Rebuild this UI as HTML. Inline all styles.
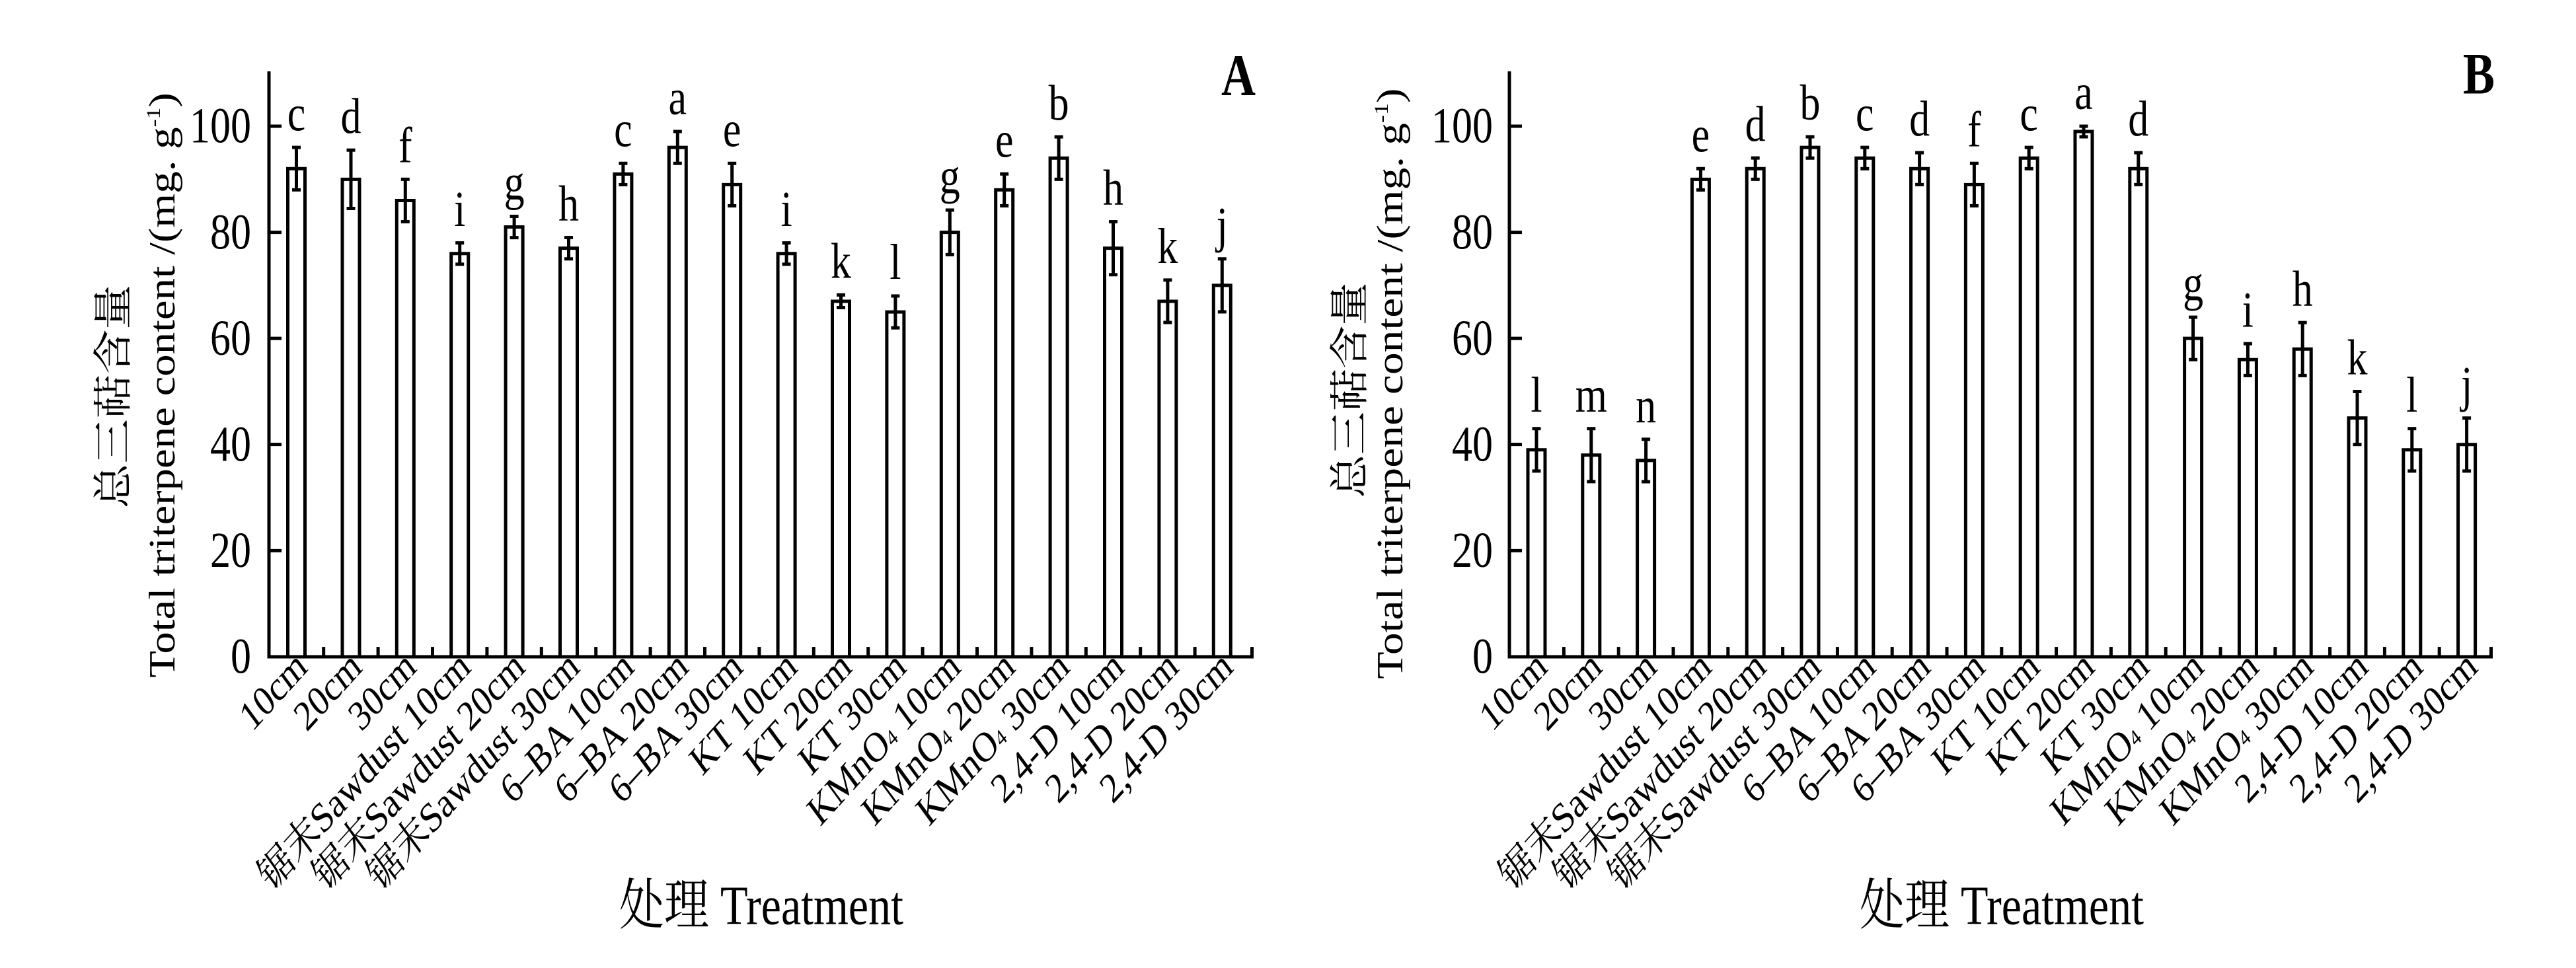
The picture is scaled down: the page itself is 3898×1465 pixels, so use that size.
<!DOCTYPE html>
<html><head><meta charset="utf-8"><style>
html,body{margin:0;padding:0;background:#fff;}
svg{display:block;}
text{font-family:"Liberation Serif","Noto Serif CJK SC",serif;fill:#000;}
.cjk{font-family:"Liberation Serif","Noto Serif CJK SC","Noto Sans CJK SC",serif;}
rect,line{vector-effect:non-scaling-stroke;}
</style></head><body>
<svg width="3898" height="1465" viewBox="0 0 3898 1465" xmlns="http://www.w3.org/2000/svg">
<rect x="0" y="0" width="3898" height="1465" fill="#fff"/>
<g transform="scale(1,1.23)">
<!-- ================= PANEL A ================= -->
<g stroke="#000" stroke-width="5" fill="none">
<line x1="407" y1="87.8" x2="407" y2="810"/>
<line x1="404.5" y1="808.1" x2="1897" y2="808.1"/>
<line x1="407" y1="677.5" x2="426" y2="677.5"/>
<line x1="407" y1="546.9" x2="426" y2="546.9"/>
<line x1="407" y1="416.4" x2="426" y2="416.4"/>
<line x1="407" y1="285.9" x2="426" y2="285.9"/>
<line x1="407" y1="155.3" x2="426" y2="155.3"/>
<line x1="489.7" y1="808" x2="489.7" y2="796"/><line x1="572.1" y1="808" x2="572.1" y2="796"/><line x1="654.5" y1="808" x2="654.5" y2="796"/><line x1="736.9" y1="808" x2="736.9" y2="796"/><line x1="819.3" y1="808" x2="819.3" y2="796"/><line x1="901.7" y1="808" x2="901.7" y2="796"/><line x1="984.1" y1="808" x2="984.1" y2="796"/><line x1="1066.5" y1="808" x2="1066.5" y2="796"/><line x1="1148.9" y1="808" x2="1148.9" y2="796"/><line x1="1231.3" y1="808" x2="1231.3" y2="796"/><line x1="1313.7" y1="808" x2="1313.7" y2="796"/><line x1="1396.1" y1="808" x2="1396.1" y2="796"/><line x1="1478.5" y1="808" x2="1478.5" y2="796"/><line x1="1560.9" y1="808" x2="1560.9" y2="796"/><line x1="1643.3" y1="808" x2="1643.3" y2="796"/><line x1="1725.7" y1="808" x2="1725.7" y2="796"/><line x1="1808.1" y1="808" x2="1808.1" y2="796"/><line x1="1894.5" y1="808" x2="1894.5" y2="796"/>
<rect x="435.5" y="207.5" width="26" height="600.6"/>
<rect x="518" y="220.6" width="26" height="587.5"/>
<rect x="600.3" y="246.7" width="26" height="561.4"/>
<rect x="682.7" y="312" width="26" height="496.1"/>
<rect x="765.1" y="279.3" width="26" height="528.8"/>
<rect x="847.5" y="305.4" width="26" height="502.7"/>
<rect x="929.9" y="214.1" width="26" height="594"/>
<rect x="1012.3" y="181.4" width="26" height="626.7"/>
<rect x="1094.7" y="227.1" width="26" height="581"/>
<rect x="1177.1" y="312" width="26" height="496.1"/>
<rect x="1259.5" y="370.7" width="26" height="437.4"/>
<rect x="1341.9" y="383.8" width="26" height="424.3"/>
<rect x="1424.3" y="285.9" width="26" height="522.2"/>
<rect x="1506.7" y="233.6" width="26" height="574.5"/>
<rect x="1589.1" y="194.5" width="26" height="613.6"/>
<rect x="1671.5" y="305.4" width="26" height="502.7"/>
<rect x="1753.9" y="370.7" width="26" height="437.4"/>
<rect x="1836.3" y="351.1" width="26" height="457"/>
<line x1="448.5" y1="181.4" x2="448.5" y2="233.6"/><line x1="442" y1="181.4" x2="455" y2="181.4"/><line x1="442" y1="233.6" x2="455" y2="233.6"/>
<line x1="531" y1="184.7" x2="531" y2="256.5"/><line x1="524.5" y1="184.7" x2="537.5" y2="184.7"/><line x1="524.5" y1="256.5" x2="537.5" y2="256.5"/>
<line x1="613.3" y1="220.6" x2="613.3" y2="272.8"/><line x1="606.8" y1="220.6" x2="619.8" y2="220.6"/><line x1="606.8" y1="272.8" x2="619.8" y2="272.8"/>
<line x1="695.7" y1="298.9" x2="695.7" y2="325.1"/><line x1="689.2" y1="298.9" x2="702.2" y2="298.9"/><line x1="689.2" y1="325.1" x2="702.2" y2="325.1"/>
<line x1="778.1" y1="266.2" x2="778.1" y2="292.4"/><line x1="771.6" y1="266.2" x2="784.6" y2="266.2"/><line x1="771.6" y1="292.4" x2="784.6" y2="292.4"/>
<line x1="860.5" y1="292.3" x2="860.5" y2="318.5"/><line x1="854" y1="292.3" x2="867" y2="292.3"/><line x1="854" y1="318.5" x2="867" y2="318.5"/>
<line x1="942.9" y1="201" x2="942.9" y2="227.2"/><line x1="936.4" y1="201" x2="949.4" y2="201"/><line x1="936.4" y1="227.2" x2="949.4" y2="227.2"/>
<line x1="1025.3" y1="161.8" x2="1025.3" y2="201"/><line x1="1018.8" y1="161.8" x2="1031.8" y2="161.8"/><line x1="1018.8" y1="201" x2="1031.8" y2="201"/>
<line x1="1107.7" y1="201" x2="1107.7" y2="253.2"/><line x1="1101.2" y1="201" x2="1114.2" y2="201"/><line x1="1101.2" y1="253.2" x2="1114.2" y2="253.2"/>
<line x1="1190.1" y1="298.9" x2="1190.1" y2="325.1"/><line x1="1183.6" y1="298.9" x2="1196.6" y2="298.9"/><line x1="1183.6" y1="325.1" x2="1196.6" y2="325.1"/>
<line x1="1272.5" y1="362.9" x2="1272.5" y2="378.5"/><line x1="1266" y1="362.9" x2="1279" y2="362.9"/><line x1="1266" y1="378.5" x2="1279" y2="378.5"/>
<line x1="1354.9" y1="364.2" x2="1354.9" y2="403.4"/><line x1="1348.4" y1="364.2" x2="1361.4" y2="364.2"/><line x1="1348.4" y1="403.4" x2="1361.4" y2="403.4"/>
<line x1="1437.3" y1="258.5" x2="1437.3" y2="313.3"/><line x1="1430.8" y1="258.5" x2="1443.8" y2="258.5"/><line x1="1430.8" y1="313.3" x2="1443.8" y2="313.3"/>
<line x1="1519.7" y1="214" x2="1519.7" y2="253.2"/><line x1="1513.2" y1="214" x2="1526.2" y2="214"/><line x1="1513.2" y1="253.2" x2="1526.2" y2="253.2"/>
<line x1="1602.1" y1="168.4" x2="1602.1" y2="220.6"/><line x1="1595.6" y1="168.4" x2="1608.6" y2="168.4"/><line x1="1595.6" y1="220.6" x2="1608.6" y2="220.6"/>
<line x1="1684.5" y1="272.8" x2="1684.5" y2="338"/><line x1="1678" y1="272.8" x2="1691" y2="272.8"/><line x1="1678" y1="338" x2="1691" y2="338"/>
<line x1="1766.9" y1="344.6" x2="1766.9" y2="396.8"/><line x1="1760.4" y1="344.6" x2="1773.4" y2="344.6"/><line x1="1760.4" y1="396.8" x2="1773.4" y2="396.8"/>
<line x1="1849.3" y1="318.5" x2="1849.3" y2="383.7"/><line x1="1842.8" y1="318.5" x2="1855.8" y2="318.5"/><line x1="1842.8" y1="383.7" x2="1855.8" y2="383.7"/>
</g>
<g font-size="62" text-anchor="end">
<text x="380" y="828">0</text><text x="380" y="697.5">20</text><text x="380" y="567">40</text><text x="380" y="436.4">60</text><text x="380" y="306">80</text><text x="380" y="175.3">100</text>
</g>
<g font-size="62" text-anchor="middle">
<text x="448.5" y="160.4">c</text><text x="531" y="163.7">d</text><text x="613.3" y="199.6">f</text><text x="695.7" y="277.9">i</text><text x="778.1" y="245.2">g</text><text x="860.5" y="271.3">h</text><text x="942.9" y="180">c</text><text x="1025.3" y="140.8">a</text><text x="1107.7" y="180">e</text><text x="1190.1" y="277.9">i</text><text x="1272.5" y="341.9">k</text><text x="1354.9" y="343.2">l</text><text x="1437.3" y="237.5">g</text><text x="1519.7" y="193">e</text><text x="1602.1" y="147.4">b</text><text x="1684.5" y="251.8">h</text><text x="1766.9" y="323.6">k</text><text x="1849.3" y="297.5">j</text>
</g>
<text x="1900" y="117" font-size="72" font-weight="bold" text-anchor="end">A</text>
<g font-size="52" text-anchor="end">
<text x="467.5" y="824" transform="rotate(-42 467.5 824)">10cm</text>
<text x="550" y="824" transform="rotate(-42 550 824)">20cm</text>
<text x="632.3" y="824" transform="rotate(-42 632.3 824)">30cm</text>
<text x="714.7" y="824" transform="rotate(-42 714.7 824)" class="cjk">锯末Sawdust 10cm</text>
<text x="797.1" y="824" transform="rotate(-42 797.1 824)" class="cjk">锯末Sawdust 20cm</text>
<text x="879.5" y="824" transform="rotate(-42 879.5 824)" class="cjk">锯末Sawdust 30cm</text>
<text x="961.9" y="824" transform="rotate(-42 961.9 824)">6–BA 10cm</text>
<text x="1044.3" y="824" transform="rotate(-42 1044.3 824)">6–BA 20cm</text>
<text x="1126.7" y="824" transform="rotate(-42 1126.7 824)">6–BA 30cm</text>
<text x="1209.1" y="824" transform="rotate(-42 1209.1 824)">KT 10cm</text>
<text x="1291.5" y="824" transform="rotate(-42 1291.5 824)">KT 20cm</text>
<text x="1373.9" y="824" transform="rotate(-42 1373.9 824)">KT 30cm</text>
<text x="1456.3" y="824" transform="rotate(-42 1456.3 824)">KMnO<tspan font-size="28">4</tspan> 10cm</text>
<text x="1538.7" y="824" transform="rotate(-42 1538.7 824)">KMnO<tspan font-size="28">4</tspan> 20cm</text>
<text x="1621.1" y="824" transform="rotate(-42 1621.1 824)">KMnO<tspan font-size="28">4</tspan> 30cm</text>
<text x="1703.5" y="824" transform="rotate(-42 1703.5 824)">2,4-D 10cm</text>
<text x="1785.9" y="824" transform="rotate(-42 1785.9 824)">2,4-D 20cm</text>
<text x="1868.3" y="824" transform="rotate(-42 1868.3 824)">2,4-D 30cm</text>
</g>
<text x="264" y="474" font-size="56" text-anchor="middle" transform="rotate(-90 264 474)" textLength="720" lengthAdjust="spacingAndGlyphs">Total triterpene content /(mg. g<tspan font-size="30" dy="-22">-1</tspan><tspan dy="22">)</tspan></text>
<text x="192" y="488" font-size="60" text-anchor="middle" class="cjk" transform="rotate(-90 192 488)" textLength="275" lengthAdjust="spacingAndGlyphs">总三萜含量</text>
<text x="1152" y="1137" font-size="68" text-anchor="middle" class="cjk" textLength="430" lengthAdjust="spacingAndGlyphs">处理 Treatment</text>

<!-- ================= PANEL B ================= -->
<g stroke="#000" stroke-width="5" fill="none">
<line x1="2284" y1="87.8" x2="2284" y2="810"/>
<line x1="2281.5" y1="808.1" x2="3772" y2="808.1"/>
<line x1="2284" y1="677.5" x2="2303" y2="677.5"/>
<line x1="2284" y1="546.9" x2="2303" y2="546.9"/>
<line x1="2284" y1="416.4" x2="2303" y2="416.4"/>
<line x1="2284" y1="285.9" x2="2303" y2="285.9"/>
<line x1="2284" y1="155.3" x2="2303" y2="155.3"/>
<line x1="2366.4" y1="808" x2="2366.4" y2="796"/><line x1="2449.2" y1="808" x2="2449.2" y2="796"/><line x1="2532" y1="808" x2="2532" y2="796"/><line x1="2614.8" y1="808" x2="2614.8" y2="796"/><line x1="2697.6" y1="808" x2="2697.6" y2="796"/><line x1="2780.4" y1="808" x2="2780.4" y2="796"/><line x1="2863.2" y1="808" x2="2863.2" y2="796"/><line x1="2946" y1="808" x2="2946" y2="796"/><line x1="3028.8" y1="808" x2="3028.8" y2="796"/><line x1="3111.6" y1="808" x2="3111.6" y2="796"/><line x1="3194.4" y1="808" x2="3194.4" y2="796"/><line x1="3277.2" y1="808" x2="3277.2" y2="796"/><line x1="3360" y1="808" x2="3360" y2="796"/><line x1="3442.8" y1="808" x2="3442.8" y2="796"/><line x1="3525.6" y1="808" x2="3525.6" y2="796"/><line x1="3608.4" y1="808" x2="3608.4" y2="796"/><line x1="3691.2" y1="808" x2="3691.2" y2="796"/><line x1="3769.5" y1="808" x2="3769.5" y2="796"/>
<rect x="2312" y="553.5" width="26" height="254.6"/>
<rect x="2394.8" y="560" width="26" height="248.1"/>
<rect x="2477.6" y="566.6" width="26" height="241.5"/>
<rect x="2560.4" y="220.6" width="26" height="587.5"/>
<rect x="2643.2" y="207.5" width="26" height="600.6"/>
<rect x="2726" y="181.4" width="26" height="626.7"/>
<rect x="2808.8" y="194.5" width="26" height="613.6"/>
<rect x="2891.6" y="207.5" width="26" height="600.6"/>
<rect x="2974.4" y="227.1" width="26" height="581"/>
<rect x="3057.2" y="194.5" width="26" height="613.6"/>
<rect x="3140" y="161.8" width="26" height="646.3"/>
<rect x="3222.8" y="207.5" width="26" height="600.6"/>
<rect x="3305.6" y="416.4" width="26" height="391.7"/>
<rect x="3388.4" y="442.5" width="26" height="365.6"/>
<rect x="3471.2" y="429.5" width="26" height="378.6"/>
<rect x="3554" y="514.3" width="26" height="293.8"/>
<rect x="3636.8" y="553.5" width="26" height="254.6"/>
<rect x="3719.6" y="547" width="26" height="261.1"/>
<line x1="2325" y1="527.4" x2="2325" y2="579.6"/><line x1="2318.5" y1="527.4" x2="2331.5" y2="527.4"/><line x1="2318.5" y1="579.6" x2="2331.5" y2="579.6"/>
<line x1="2407.8" y1="527.4" x2="2407.8" y2="592.6"/><line x1="2401.3" y1="527.4" x2="2414.3" y2="527.4"/><line x1="2401.3" y1="592.6" x2="2414.3" y2="592.6"/>
<line x1="2490.6" y1="540.5" x2="2490.6" y2="592.7"/><line x1="2484.1" y1="540.5" x2="2497.1" y2="540.5"/><line x1="2484.1" y1="592.7" x2="2497.1" y2="592.7"/>
<line x1="2573.4" y1="207.5" x2="2573.4" y2="233.7"/><line x1="2566.9" y1="207.5" x2="2579.9" y2="207.5"/><line x1="2566.9" y1="233.7" x2="2579.9" y2="233.7"/>
<line x1="2656.2" y1="194.4" x2="2656.2" y2="220.6"/><line x1="2649.7" y1="194.4" x2="2662.7" y2="194.4"/><line x1="2649.7" y1="220.6" x2="2662.7" y2="220.6"/>
<line x1="2739" y1="168.3" x2="2739" y2="194.5"/><line x1="2732.5" y1="168.3" x2="2745.5" y2="168.3"/><line x1="2732.5" y1="194.5" x2="2745.5" y2="194.5"/>
<line x1="2821.8" y1="181.4" x2="2821.8" y2="207.6"/><line x1="2815.3" y1="181.4" x2="2828.3" y2="181.4"/><line x1="2815.3" y1="207.6" x2="2828.3" y2="207.6"/>
<line x1="2904.6" y1="187.9" x2="2904.6" y2="227.1"/><line x1="2898.1" y1="187.9" x2="2911.1" y2="187.9"/><line x1="2898.1" y1="227.1" x2="2911.1" y2="227.1"/>
<line x1="2987.4" y1="201" x2="2987.4" y2="253.2"/><line x1="2980.9" y1="201" x2="2993.9" y2="201"/><line x1="2980.9" y1="253.2" x2="2993.9" y2="253.2"/>
<line x1="3070.2" y1="181.4" x2="3070.2" y2="207.6"/><line x1="3063.7" y1="181.4" x2="3076.7" y2="181.4"/><line x1="3063.7" y1="207.6" x2="3076.7" y2="207.6"/>
<line x1="3153" y1="155.3" x2="3153" y2="168.3"/><line x1="3146.5" y1="155.3" x2="3159.5" y2="155.3"/><line x1="3146.5" y1="168.3" x2="3159.5" y2="168.3"/>
<line x1="3235.8" y1="187.9" x2="3235.8" y2="227.1"/><line x1="3229.3" y1="187.9" x2="3242.3" y2="187.9"/><line x1="3229.3" y1="227.1" x2="3242.3" y2="227.1"/>
<line x1="3318.6" y1="390.3" x2="3318.6" y2="442.5"/><line x1="3312.1" y1="390.3" x2="3325.1" y2="390.3"/><line x1="3312.1" y1="442.5" x2="3325.1" y2="442.5"/>
<line x1="3401.4" y1="422.9" x2="3401.4" y2="462.1"/><line x1="3394.9" y1="422.9" x2="3407.9" y2="422.9"/><line x1="3394.9" y1="462.1" x2="3407.9" y2="462.1"/>
<line x1="3484.2" y1="396.9" x2="3484.2" y2="462.1"/><line x1="3477.7" y1="396.9" x2="3490.7" y2="396.9"/><line x1="3477.7" y1="462.1" x2="3490.7" y2="462.1"/>
<line x1="3567" y1="481.7" x2="3567" y2="546.9"/><line x1="3560.5" y1="481.7" x2="3573.5" y2="481.7"/><line x1="3560.5" y1="546.9" x2="3573.5" y2="546.9"/>
<line x1="3649.8" y1="527.4" x2="3649.8" y2="579.6"/><line x1="3643.3" y1="527.4" x2="3656.3" y2="527.4"/><line x1="3643.3" y1="579.6" x2="3656.3" y2="579.6"/>
<line x1="3732.6" y1="514.4" x2="3732.6" y2="579.6"/><line x1="3726.1" y1="514.4" x2="3739.1" y2="514.4"/><line x1="3726.1" y1="579.6" x2="3739.1" y2="579.6"/>
</g>
<g font-size="62" text-anchor="end">
<text x="2259" y="828">0</text><text x="2259" y="697.5">20</text><text x="2259" y="567">40</text><text x="2259" y="436.4">60</text><text x="2259" y="306">80</text><text x="2259" y="175.3">100</text>
</g>
<g font-size="62" text-anchor="middle">
<text x="2325" y="506.4">l</text><text x="2407.8" y="506.4">m</text><text x="2490.6" y="519.5">n</text><text x="2573.4" y="186.5">e</text><text x="2656.2" y="173.4">d</text><text x="2739" y="147.3">b</text><text x="2821.8" y="160.4">c</text><text x="2904.6" y="166.9">d</text><text x="2987.4" y="180">f</text><text x="3070.2" y="160.4">c</text><text x="3153" y="134.3">a</text><text x="3235.8" y="166.9">d</text><text x="3318.6" y="369.3">g</text><text x="3401.4" y="401.9">i</text><text x="3484.2" y="375.9">h</text><text x="3567" y="460.7">k</text><text x="3649.8" y="506.4">l</text><text x="3732.6" y="493.4">j</text>
</g>
<text x="3775" y="115" font-size="72" font-weight="bold" text-anchor="end">B</text>
<g font-size="52" text-anchor="end">
<text x="2344" y="824" transform="rotate(-42 2344 824)">10cm</text>
<text x="2426.8" y="824" transform="rotate(-42 2426.8 824)">20cm</text>
<text x="2509.6" y="824" transform="rotate(-42 2509.6 824)">30cm</text>
<text x="2592.4" y="824" transform="rotate(-42 2592.4 824)" class="cjk">锯末Sawdust 10cm</text>
<text x="2675.2" y="824" transform="rotate(-42 2675.2 824)" class="cjk">锯末Sawdust 20cm</text>
<text x="2758" y="824" transform="rotate(-42 2758 824)" class="cjk">锯末Sawdust 30cm</text>
<text x="2840.8" y="824" transform="rotate(-42 2840.8 824)">6–BA 10cm</text>
<text x="2923.6" y="824" transform="rotate(-42 2923.6 824)">6–BA 20cm</text>
<text x="3006.4" y="824" transform="rotate(-42 3006.4 824)">6–BA 30cm</text>
<text x="3089.2" y="824" transform="rotate(-42 3089.2 824)">KT 10cm</text>
<text x="3172" y="824" transform="rotate(-42 3172 824)">KT 20cm</text>
<text x="3254.8" y="824" transform="rotate(-42 3254.8 824)">KT 30cm</text>
<text x="3337.6" y="824" transform="rotate(-42 3337.6 824)">KMnO<tspan font-size="28">4</tspan> 10cm</text>
<text x="3420.4" y="824" transform="rotate(-42 3420.4 824)">KMnO<tspan font-size="28">4</tspan> 20cm</text>
<text x="3503.2" y="824" transform="rotate(-42 3503.2 824)">KMnO<tspan font-size="28">4</tspan> 30cm</text>
<text x="3586" y="824" transform="rotate(-42 3586 824)">2,4-D 10cm</text>
<text x="3668.8" y="824" transform="rotate(-42 3668.8 824)">2,4-D 20cm</text>
<text x="3751.6" y="824" transform="rotate(-42 3751.6 824)">2,4-D 30cm</text>
</g>
<text x="2122" y="472" font-size="56" text-anchor="middle" transform="rotate(-90 2122 472)" textLength="727" lengthAdjust="spacingAndGlyphs">Total triterpene content /(mg. g<tspan font-size="30" dy="-22">-1</tspan><tspan dy="22">)</tspan></text>
<text x="2063" y="480" font-size="60" text-anchor="middle" class="cjk" transform="rotate(-90 2063 480)" textLength="265" lengthAdjust="spacingAndGlyphs">总三萜含量</text>
<text x="3029" y="1137" font-size="68" text-anchor="middle" class="cjk" textLength="430" lengthAdjust="spacingAndGlyphs">处理 Treatment</text>
</g>
</svg>
</body></html>
